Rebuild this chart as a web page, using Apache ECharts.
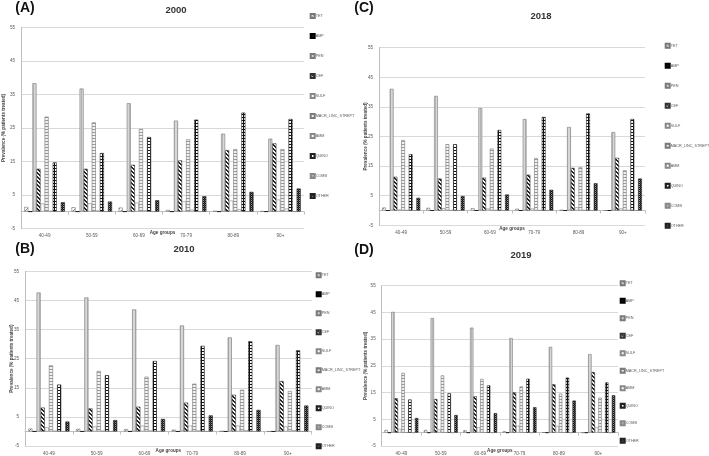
<!DOCTYPE html>
<html>
<head>
<meta charset="utf-8">
<script src="https://cdn.jsdelivr.net/npm/echarts@6/dist/echarts.min.js"></script>
<style>html,body{margin:0;padding:0;background:#fff}#c{width:709px;height:456px}</style>
</head>
<body>
<div id="c"></div>
<script>
// ---- data ----
const ageGroups = ['40-49', '50-59', '60-69', '70-79', '80-89', '90+'];
const seriesNames = ['TET', 'AMP', 'PEN', 'CEF', 'SULF', 'MACR_LINC_STREPT', 'AMM', 'QUINO', 'COMB', 'OTHER'];
const yTicks = [-5, 5, 15, 25, 35, 45, 55];

// 2000 (A)
const tet2000   = [1.4, 1.3, 1.2, 0.5, 0.2, 0.1];
const amp2000   = [0, 0, 0, 0, 0, 0];
const pen2000   = [38.4, 36.8, 32.4, 27.2, 23.3, 21.8];
const cef2000   = [12.8, 12.8, 14.0, 15.3, 18.4, 20.4];
const sulf2000  = [2.4, 2.5, 2.7, 3.1, 3.3, 3.6];
const macr2000  = [28.4, 26.7, 24.7, 21.6, 18.7, 18.7];
const amm2000   = [0.2, 0.3, 0.4, 0.6, 0.7, 0.9];
const quino2000 = [14.7, 17.5, 22.3, 27.5, 29.6, 27.7];
const comb2000  = [0, 0, 0, 0, 0, 0];
const other2000 = [2.8, 3.0, 3.4, 4.6, 5.9, 6.9];

// 2010 (B)
const tet2010   = [1.0, 0.9, 0.8, 0.6, 0.1, 0.0];
const amp2010   = [0, 0, 0, 0, 0, 0];
const pen2010   = [47.7, 46.0, 41.9, 36.4, 32.3, 29.7];
const cef2010   = [8.2, 7.9, 8.5, 9.9, 12.6, 17.3];
const sulf2010  = [1.4, 1.7, 2.0, 2.0, 2.0, 1.7];
const macr2010  = [22.7, 20.8, 18.8, 16.4, 14.3, 13.9];
const amm2010   = [0.2, 0.2, 0.3, 0.3, 0.4, 0.4];
const quino2010 = [16.1, 19.3, 24.2, 29.4, 31.0, 27.9];
const comb2010  = [0, 0, 0, 0, 0, 0];
const other2010 = [3.4, 3.9, 4.3, 5.5, 7.4, 8.9];

// 2018 (C)
const tet2018   = [1.0, 0.9, 0.8, 0.6, 0.2, 0.0];
const amp2018   = [0, 0, 0, 0, 0, 0];
const pen2018   = [41.1, 38.7, 34.6, 30.9, 28.2, 26.5];
const cef2018   = [11.4, 10.8, 11.1, 12.1, 14.4, 17.8];
const sulf2018  = [0.3, 0.8, 0.7, 0.7, 1.1, 0.7];
const macr2018  = [23.8, 22.4, 20.9, 17.7, 14.6, 13.6];
const amm2018   = [0.1, 0.1, 0.1, 0.1, 0.1, 0.1];
const quino2018 = [19.0, 22.4, 27.2, 31.6, 32.8, 30.9];
const comb2018  = [0, 0, 0, 0, 0, 0];
const other2018 = [4.3, 4.9, 5.4, 7.0, 9.2, 10.8];

// 2019 (D)
const tet2019   = [1.0, 1.0, 0.9, 0.5, 0.1, 0.0];
const amp2019   = [0, 0, 0, 0, 0, 0];
const pen2019   = [45.2, 42.9, 39.3, 35.4, 32.1, 29.4];
const cef2019   = [12.9, 12.6, 13.6, 15.1, 18.1, 22.7];
const sulf2019  = [1.4, 1.2, 2.0, 2.6, 2.5, 2.1];
const macr2019  = [22.4, 21.4, 20.1, 17.3, 14.6, 13.1];
const amm2019   = [0.1, 0.1, 0.1, 0.1, 0.1, 0.1];
const quino2019 = [12.4, 14.7, 17.7, 20.2, 20.6, 18.8];
const comb2019  = [0, 0, 0, 0, 0, 0];
const other2019 = [5.5, 6.6, 7.3, 9.5, 12.0, 14.0];

const panelData = [
  [tet2000, amp2000, pen2000, cef2000, sulf2000, macr2000, amm2000, quino2000, comb2000, other2000],
  [tet2010, amp2010, pen2010, cef2010, sulf2010, macr2010, amm2010, quino2010, comb2010, other2010],
  [tet2018, amp2018, pen2018, cef2018, sulf2018, macr2018, amm2018, quino2018, comb2018, other2018],
  [tet2019, amp2019, pen2019, cef2019, sulf2019, macr2019, amm2019, quino2019, comb2019, other2019]
];
const panelLetters = ['(A)', '(B)', '(C)', '(D)'];
const panelYears = ['2000', '2010', '2018', '2019'];

// ---- patterns ----
function pat(w, h, draw) {
  const c = document.createElement('canvas');
  c.width = w; c.height = h;
  const g = c.getContext('2d');
  draw(g);
  return { image: c, repeat: 'repeat' };
}
const fills = [
  // TET: light upward diagonal
  pat(4, 4, g => { g.fillStyle = '#fff'; g.fillRect(0,0,4,4); g.fillStyle = '#888';
    g.fillRect(3,0,1,1); g.fillRect(2,1,1,1); g.fillRect(1,2,1,1); g.fillRect(0,3,1,1); }),
  // AMP: solid black
  '#111',
  // PEN: light grey with vertical lines
  pat(3, 3, g => { g.fillStyle = '#d6d6d6'; g.fillRect(0,0,3,3); g.fillStyle = '#b4b4b4'; g.fillRect(0,0,1,3); }),
  // CEF: dark downward diagonal
  pat(4, 4, g => { g.fillStyle = '#fff'; g.fillRect(0,0,4,4); g.fillStyle = '#222';
    for (let i = 0; i < 4; i++) { g.fillRect(i, i, 1, 1); g.fillRect((i + 1) % 4, i, 1, 1); } }),
  // SULF: white
  '#ffffff',
  // MACR: horizontal stripes
  pat(3, 3, g => { g.fillStyle = '#f2f2f2'; g.fillRect(0,0,3,3); g.fillStyle = '#9a9a9a'; g.fillRect(0,0,3,1); }),
  // AMM: white
  '#ffffff',
  // QUINO: dark grid with white squares
  pat(3, 3, g => { g.fillStyle = '#111'; g.fillRect(0,0,3,3); g.fillStyle = '#fff'; g.fillRect(1,1,2,2); }),
  // COMB: grey
  pat(2, 2, g => { g.fillStyle = '#bbb'; g.fillRect(0,0,2,2); g.fillStyle = '#888'; g.fillRect(0,0,1,1); }),
  // OTHER: dark checkerboard
  pat(2, 2, g => { g.fillStyle = '#444'; g.fillRect(0,0,2,2); g.fillStyle = '#111'; g.fillRect(0,0,1,1); g.fillRect(1,1,1,1); g.fillStyle='#999'; g.fillRect(1,0,1,1); })
];
const borders = ['#777', '#000', '#7a7a7a', '#333', '#888', '#7a7a7a', '#888', '#222', '#888', '#222'];

// ---- layout (A, B, C, D) ----
const grids = [
  { left: 21,    top: 27.7,  width: 283,   height: 200.6 },
  { left: 25,    top: 271.3, width: 286.7, height: 178 },
  { left: 379,   top: 47.7,  width: 266,   height: 177.6 },
  { left: 381.7, top: 285.7, width: 236.3, height: 161.3 }
];
const legendPos = [
  { left: 309.7, top: 13,    itemGap: 14 },
  { left: 315.7, top: 272.3, itemGap: 13 },
  { left: 664.7, top: 42.7,  itemGap: 14 },
  { left: 619.7, top: 280.3, itemGap: 11.5 }
];
const yNameGap = [15, 11, 11, 13];
const xNameGap = [2.2, 2.5, 0.9, 1.8];
const letterPos = [[25, 8], [25, 249], [364, 8], [364, 250]];
const yearPos = [[176, 10], [184, 249], [541, 16], [521, 255]];

const txt = '#595959';
const option = {
  animation: false,
  backgroundColor: '#fff',
  grid: grids.map(g => Object.assign({ containLabel: false }, g)),
  xAxis: grids.map((g, i) => ({
    type: 'category', gridIndex: i, data: ageGroups,
    name: 'Age groups', nameLocation: 'middle', nameGap: xNameGap[i], nameMoveOverlap: false,
    nameTextStyle: { fontSize: 4.6, fontWeight: 'bold', color: '#444', fontFamily: 'Liberation Sans' },
    axisLine: { onZero: true, lineStyle: { color: '#bfbfbf', width: 1 } },
    axisTick: { show: true, length: 3, lineStyle: { color: '#bfbfbf' } },
    axisLabel: { fontSize: 4.6, color: txt, margin: 5, fontFamily: 'Liberation Sans', interval: 0 },
    splitLine: { show: false }
  })),
  yAxis: grids.map((g, i) => ({
    type: 'value', gridIndex: i, min: yTicks[0], max: yTicks[yTicks.length - 1], interval: 10,
    name: 'Prevalence (% patients treated)', nameLocation: 'middle', nameGap: yNameGap[i], nameRotate: 90,
    nameMoveOverlap: false,
    nameTextStyle: { fontSize: 4.6, fontWeight: 'bold', color: '#444', fontFamily: 'Liberation Sans' },
    axisLine: { show: true, lineStyle: { color: '#bfbfbf', width: 1 } },
    axisTick: { show: false },
    axisLabel: { fontSize: 4.6, color: txt, margin: 6, fontFamily: 'Liberation Sans' },
    splitLine: { show: true, lineStyle: { color: '#d9d9d9', width: 1 } }
  })),
  legend: legendPos.map(p => ({
    orient: 'vertical', left: p.left, top: p.top, itemGap: p.itemGap,
    width: 120, height: 260, padding: 0,
    itemWidth: 4, itemHeight: 4, icon: 'rect', data: seriesNames,
    textStyle: { fontSize: 3.75, color: txt, fontFamily: 'Liberation Sans', padding: [0, 0, 0, -4] },
    selectedMode: false
  })),
  graphic: [].concat(
    panelLetters.map((t, i) => ({ type: 'text', x: letterPos[i][0], y: letterPos[i][1],
      style: { text: t, font: 'bold 14px "Liberation Sans", Arial', fill: '#111', textAlign: 'center', textVerticalAlign: 'middle' } })),
    panelYears.map((t, i) => ({ type: 'text', x: yearPos[i][0], y: yearPos[i][1],
      style: { text: t, font: 'bold 9.5px "Liberation Sans", Arial', fill: '#333', textAlign: 'center', textVerticalAlign: 'middle' } }))
  ),
  series: []
};
panelData.forEach((arrs, p) => {
  arrs.forEach((vals, s) => {
    option.series.push({
      type: 'bar', name: seriesNames[s], xAxisIndex: p, yAxisIndex: p, data: vals,
      barGap: '0%', barCategoryGap: '14%',
      itemStyle: { color: fills[s], borderColor: borders[s], borderWidth: 0.6 },
      emphasis: { disabled: true }
    });
  });
});
const chart = echarts.init(document.getElementById('c'), null, { renderer: 'canvas' });
chart.setOption(option);
</script>
</body>
</html>
